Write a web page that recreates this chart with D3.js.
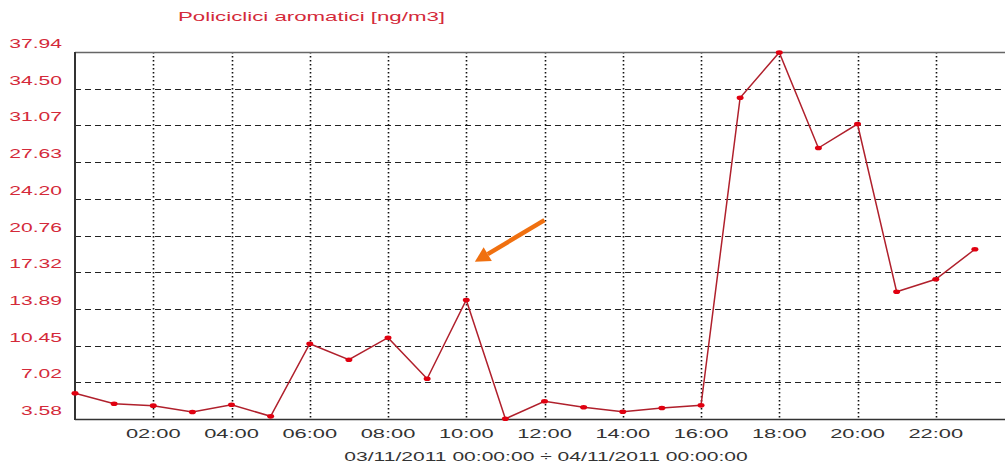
<!DOCTYPE html>
<html>
<head>
<meta charset="utf-8">
<script src="https://cdn.jsdelivr.net/npm/d3@7"></script>
<style>
  body { margin: 0; background: #fff; }
  text { font-family: "Liberation Sans", Arial, sans-serif; }
</style>
</head>
<body>
<svg id="chart" width="1005" height="463"></svg>
<script>
// hourly values, 03/11/2011
const hours = d3.range(0, 24);
const values = [5.99, 5.01, 4.83, 4.24, 4.92, 3.83, 10.63, 9.13, 11.19, 7.35, 14.72, 3.60,
                5.24, 4.68, 4.26, 4.61, 4.86, 33.66, 37.90, 28.95, 31.20, 15.50, 16.66, 19.47];
const yTicks = [3.58, 7.02, 10.45, 13.89, 17.32, 20.76, 24.20, 27.63, 31.07, 34.50, 37.94];
const xTicks = [2, 4, 6, 8, 10, 12, 14, 16, 18, 20, 22];
const title = "Policiclici aromatici [ng/m3]";
const period = "03/11/2011 00:00:00 \u00f7 04/11/2011 00:00:00";
// arrow annotation (hour, value): tail -> tip
const arrow = [[12.0, 22.2], [10.22, 18.3]];

const data = hours.map((h, i) => ({h: h, v: values[i]}));

const svg = d3.select('#chart');
const mLeft = 75, mTop = 52, mBottom = 419;
const x = d3.scaleLinear().domain([0, 24]).range([mLeft, 1014]);
const y = d3.scaleLinear().domain([3.58, 37.94]).range([mBottom, mTop]);
const sx = 1.62;  // the source image is stretched sideways

// horizontal dashed grid
svg.append("g")
    .selectAll("line")
    .data(yTicks.slice(1, -1))
    .enter().append("line")
    .attr("x1", mLeft).attr("x2", 1005)
    .attr("y1", d => Math.round(y(d)) + 0.5).attr("y2", d => Math.round(y(d)) + 0.5)
    .attr("stroke", "#222")
    .attr("stroke-width", 1.2)
    .attr("stroke-dasharray", "6,4");

// vertical dotted grid
svg.append("g")
    .selectAll("line")
    .data(xTicks)
    .enter().append("line")
    .attr("x1", d => Math.round(x(d)) + 0.5).attr("x2", d => Math.round(x(d)) + 0.5)
    .attr("y1", mTop).attr("y2", mBottom)
    .attr("stroke", "#111")
    .attr("stroke-width", 1.6)
    .attr("stroke-dasharray", "1.6,2.4");

// frame
svg.append("line").attr("x1", mLeft).attr("x2", 1005).attr("y1", mTop + 0.5).attr("y2", mTop + 0.5)
    .attr("stroke", "#666").attr("stroke-width", 1.5);
svg.append("line").attr("x1", mLeft).attr("x2", 1005).attr("y1", mBottom + 0.5).attr("y2", mBottom + 0.5)
    .attr("stroke", "#333").attr("stroke-width", 1.5);
svg.append("line").attr("x1", mLeft).attr("x2", mLeft).attr("y1", mTop).attr("y2", mBottom + 1)
    .attr("stroke", "#333").attr("stroke-width", 2);

// y labels (sit a little above their line)
svg.append("g")
    .selectAll("text")
    .data(yTicks)
    .enter().append("text")
    .attr("transform", d => `translate(62,${y(d) - 4}) scale(${sx},1)`)
    .attr("text-anchor", "end")
    .attr("font-size", 13)
    .attr("fill", "#d42a3a")
    .text(d => d.toFixed(2));

// x labels
svg.append("g")
    .selectAll("text")
    .data(xTicks)
    .enter().append("text")
    .attr("transform", d => `translate(${x(d)},437.5) scale(${sx},1)`)
    .attr("text-anchor", "middle")
    .attr("font-size", 13.5)
    .attr("fill", "#333")
    .text(d => d3.format("02d")(d) + ":00");

svg.append("text")
    .attr("transform", `translate(546,461) scale(${sx},1)`)
    .attr("text-anchor", "middle")
    .attr("font-size", 13)
    .attr("fill", "#333")
    .text(period);

svg.append("text")
    .attr("x", 178).attr("y", 21)
    .attr("font-size", 13)
    .attr("fill", "#d42a3a")
    .attr("textLength", 267)
    .attr("lengthAdjust", "spacingAndGlyphs")
    .text(title);

// series
const line = d3.line().x(d => x(d.h)).y(d => y(d.v));
svg.append("path")
    .datum(data)
    .attr("fill", "none")
    .attr("stroke", "#b0202c")
    .attr("stroke-width", 1.5)
    .attr("d", line);

svg.append("g")
    .selectAll("ellipse")
    .data(data)
    .enter().append("ellipse")
    .attr("cx", d => x(d.h))
    .attr("cy", d => y(d.v))
    .attr("rx", 3.5).attr("ry", 2.3)
    .attr("fill", "#e00010");

// orange arrow
const [t0, t1] = arrow.map(p => [x(p[0]), y(p[1])]);
const ang = Math.atan2(t1[1] - t0[1], t1[0] - t0[0]);
const hl = 15, hw = 8;
const base = [t1[0] - hl * Math.cos(ang), t1[1] - hl * Math.sin(ang)];
svg.append("line")
    .attr("x1", t0[0]).attr("y1", t0[1])
    .attr("x2", base[0]).attr("y2", base[1])
    .attr("stroke", "#f07010").attr("stroke-width", 4.5);
svg.append("path")
    .attr("d", d3.line()([
        t1,
        [base[0] + hw * Math.sin(ang), base[1] - hw * Math.cos(ang)],
        [base[0] - hw * Math.sin(ang), base[1] + hw * Math.cos(ang)]
    ]))
    .attr("fill", "#f07010");
</script>
</body>
</html>
